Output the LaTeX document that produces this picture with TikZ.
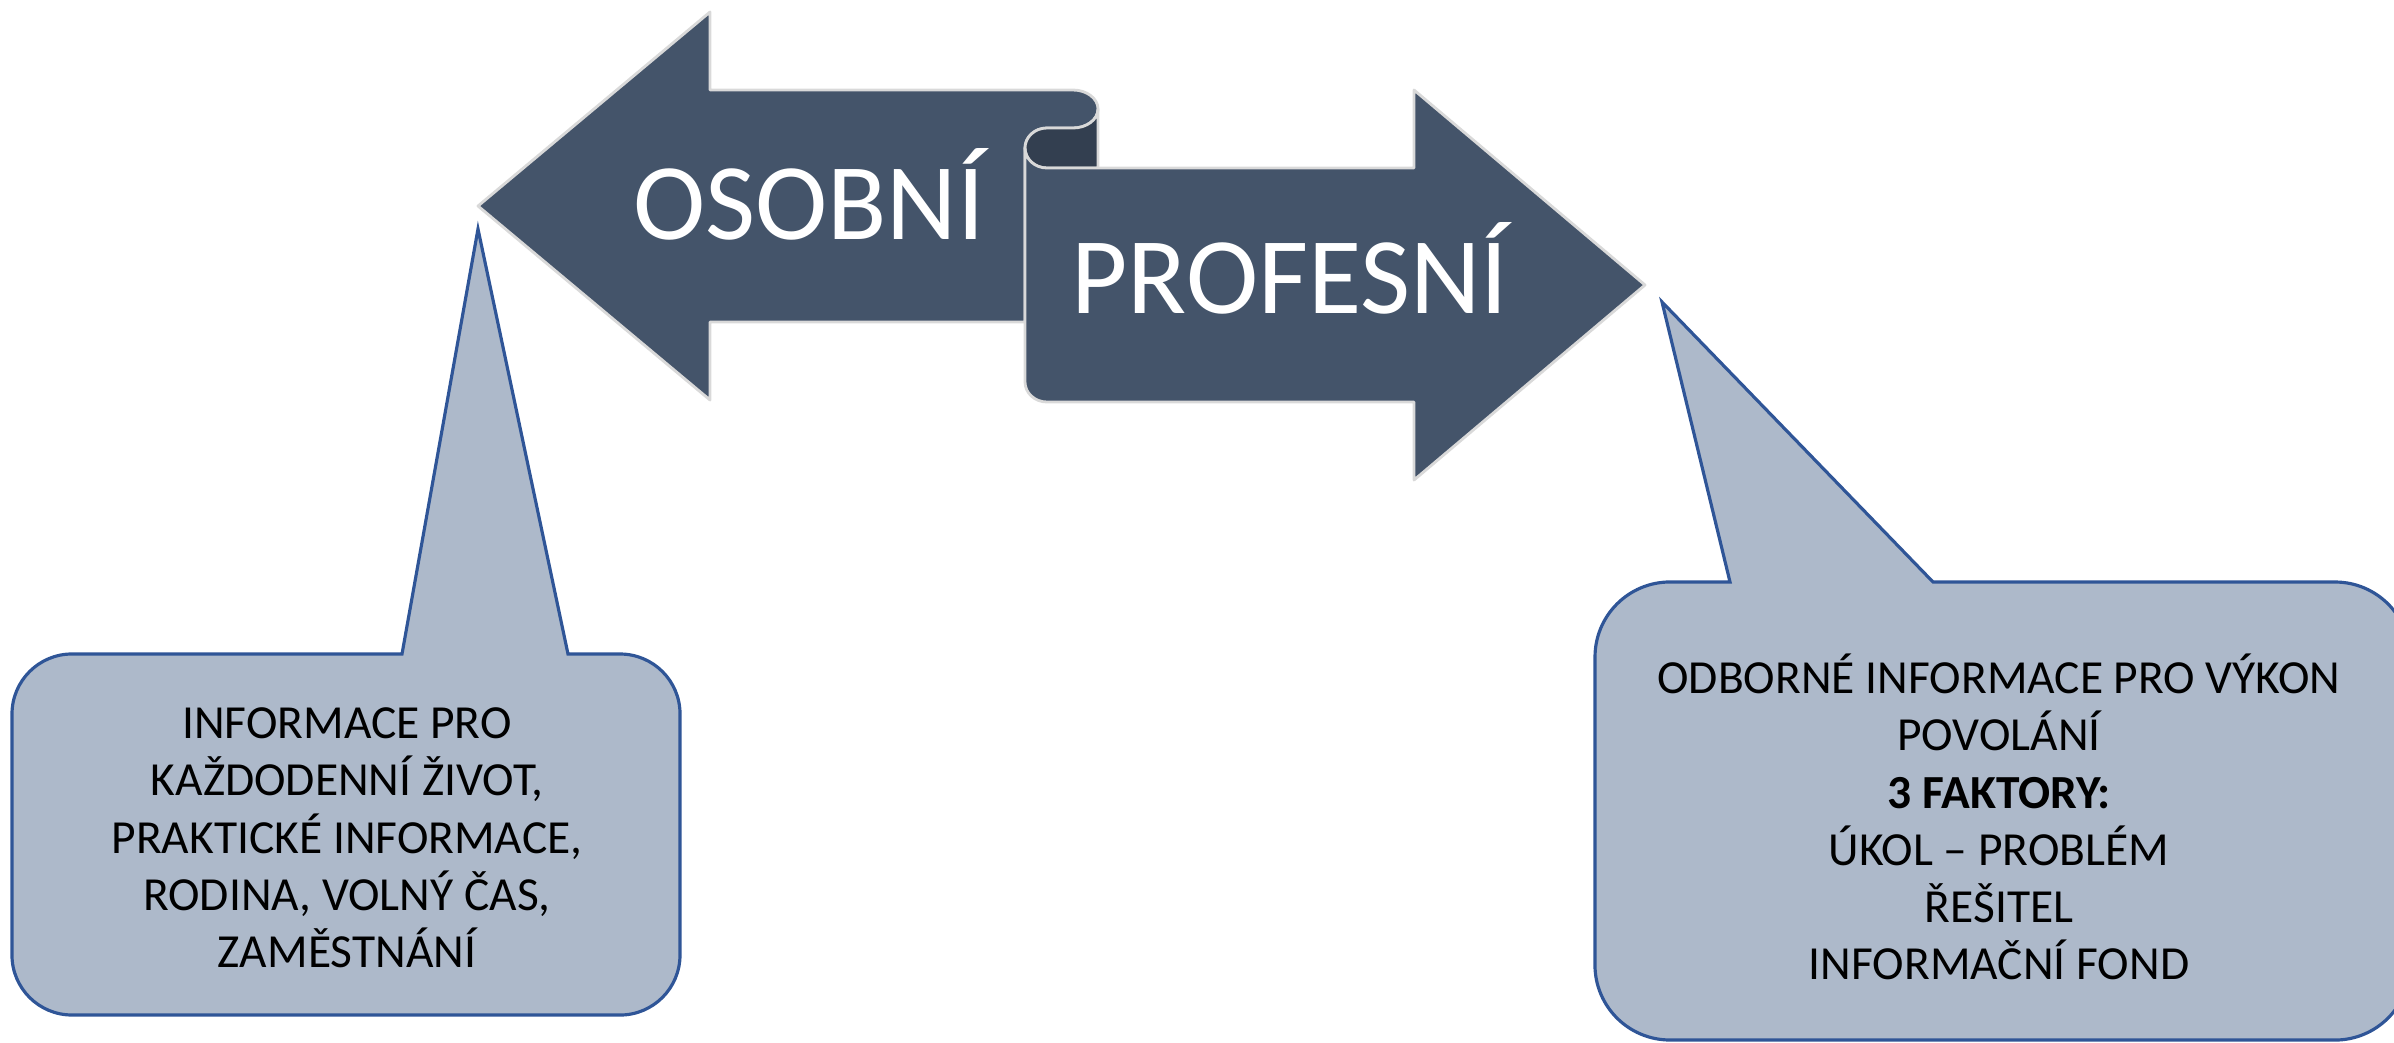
\documentclass[tikz,border=0pt]{standalone}
\usepackage{fontspec}
\setmainfont{Carlito}

\definecolor{arrowfill}{HTML}{44546A}
\definecolor{arrowback}{HTML}{333F50}
\definecolor{arrowline}{HTML}{D9D9D9}
\definecolor{calloutfill}{HTML}{ADB9CA}
\definecolor{calloutline}{HTML}{2F5597}

\begin{document}
\begin{tikzpicture}[x=0.01cm,y=0.01cm,
    arrowshape/.style={fill=arrowfill,draw=arrowline,line width=0.8pt,line join=round},
    arrowrear/.style={fill=arrowback,draw=arrowline,line width=0.8pt,line join=round},
    calloutshape/.style={fill=calloutfill,draw=calloutline,line width=0.9pt,line join=miter},
    arrowtext/.style={text=white,font=\fontsize{31}{37}\selectfont,inner sep=0pt},
    callouttext/.style={text=black,align=center,font=\fontsize{13.5}{16.3}\selectfont}]

    % page frame
    \useasboundingbox (0,0) rectangle (2394,-1042);
    \clip (0,0) rectangle (2394,-1042);

    % left arrow (front of the ribbon)
    \path[arrowshape] (710,-90) -- (1073,-90)
        arc[start angle=90,end angle=-90,x radius=0.25cm,y radius=0.19cm]
        -- (1047,-128)
        arc[start angle=90,end angle=180,x radius=0.22cm,y radius=0.2cm]
        -- (1025,-322) -- (710,-322) -- (710,-400) -- (478,-206) -- (710,-12) -- cycle;

    % back side of the curl
    \path[arrowrear] (1098,-109)
        arc[start angle=0,end angle=-90,x radius=0.25cm,y radius=0.19cm]
        -- (1047,-128)
        arc[start angle=90,end angle=270,x radius=0.22cm,y radius=0.2cm]
        -- (1098,-168) -- cycle;

    % right arrow
    \path[arrowshape] (1047,-168) -- (1414,-168) -- (1414,-90) -- (1645,-285)
        -- (1414,-480) -- (1414,-402) -- (1047,-402)
        arc[start angle=270,end angle=180,x radius=0.22cm,y radius=0.2cm]
        -- (1025,-148)
        arc[start angle=180,end angle=270,x radius=0.22cm,y radius=0.2cm] -- cycle;

    % arrow labels
    \node[arrowtext,anchor=base] (osobni) at (809,-239) {OSOBNÍ};
    \node[arrowtext,anchor=base] (profesni) at (1290,-313) {PROFESNÍ};

    % left callout
    \path[calloutshape] (402,-654) -- (478,-229) -- (568,-654) -- (620,-654)
        arc[start angle=90,end angle=0,radius=0.6cm] -- (680,-955)
        arc[start angle=0,end angle=-90,radius=0.6cm] -- (72,-1015)
        arc[start angle=270,end angle=180,radius=0.6cm] -- (12,-714)
        arc[start angle=180,end angle=90,radius=0.6cm] -- cycle;

    % right callout
    \path[calloutshape] (1730,-582) -- (1662,-302) -- (1933,-582) -- (2335,-582)
        arc[start angle=90,end angle=0,radius=0.75cm] -- (2410,-965)
        arc[start angle=0,end angle=-90,radius=0.75cm] -- (1670,-1040)
        arc[start angle=270,end angle=180,radius=0.75cm] -- (1595,-657)
        arc[start angle=180,end angle=90,radius=0.75cm] -- cycle;

    % callout texts
    \node[callouttext] (infoosobni) at (347,-838)
        {INFORMACE PRO\\KAŽDODENNÍ ŽIVOT,\\PRAKTICKÉ INFORMACE,\\RODINA, VOLNÝ ČAS,\\ZAMĚSTNÁNÍ};
    \node[callouttext] (infoprofesni) at (1999,-817)
        {ODBORNÉ INFORMACE PRO VÝKON\\POVOLÁNÍ\\\textbf{3 FAKTORY:}\\ÚKOL – PROBLÉM\\ŘEŠITEL\\INFORMAČNÍ FOND};
\end{tikzpicture}
\end{document}
